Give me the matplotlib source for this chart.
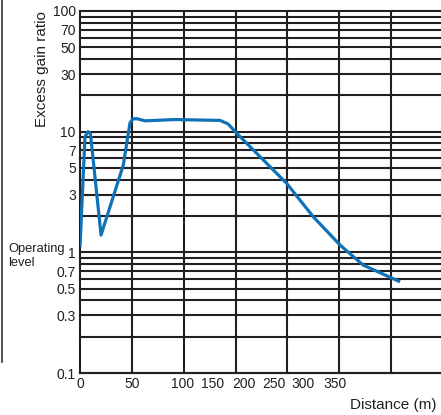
import matplotlib
matplotlib.use("Agg")
import matplotlib.pyplot as plt
from matplotlib.lines import Line2D

plt.rcParams['font.family'] = ['Liberation Sans', 'DejaVu Sans']

# curve (distance in grid units, gain ratio)
distance = [0, 4.8, 7.7, 10.1, 20.3, 41.8, 48.2, 51.1, 55, 62.7, 91.6, 135,
            142.8, 151.1, 199.3, 225, 250.8, 273, 308.7]
gain = [1.11, 9.07, 10.0, 9.6, 1.39, 5.3, 11.8, 12.8, 12.8, 12.3, 12.6, 12.4,
        11.6, 9.7, 3.73, 1.97, 1.15, 0.785, 0.57]

ytick_vals = [0.1, 0.3, 0.5, 0.7, 1, 3, 5, 7, 10, 30, 50, 70, 100]
ytick_text = ["0.1", "0.3", "0.5", "0.7", "1", "3", "5", "7", "10", "30", "50", "70", "100"]
xtick_text = ["0", "50", "100", "150", "200", "250", "300", "350"]
# where the x labels sit (they drift off the grid in the original)
xtick_pos = [0, 50, 99.4, 128.3, 158.2, 187.1, 215, 246]
xgrid = [50, 100, 150, 200, 250, 300]
ygrid = [k * 10.0**e for e in (-1, 0, 1) for k in range(1, 10)] + [100]

W, H = 441, 415
fig = plt.figure(figsize=(W / 100, H / 100), dpi=100)
ax = fig.add_axes([80 / W, 1 - 373 / H, 1 - 80 / W, (373 - 11) / H])

ink = '#231f20'
ax.set_yscale('log')
ax.set_ylim(0.1, 100)
ax.set_xlim(0, 348.2)

ax.set_yticks(ytick_vals)
ax.set_yticklabels(ytick_text)
ax.minorticks_off()
ax.set_xticks(xtick_pos)
ax.set_xticklabels(xtick_text)

ax.tick_params(which='both', length=0)
ax.tick_params(axis='y', labelsize=10, pad=3, colors=ink)
ax.tick_params(axis='x', labelsize=10, pad=3, colors=ink)

for v in ygrid:
    ax.axhline(v, color=ink, linewidth=1.5, zorder=1, clip_on=False)
for v in xgrid:
    ax.axvline(v, color=ink, linewidth=1.5, zorder=1)

for s in ['top', 'right']:
    ax.spines[s].set_visible(False)
for s in ['left', 'bottom']:
    ax.spines[s].set_color(ink)
    ax.spines[s].set_linewidth(1.5)

ax.plot(distance, gain, color='#0f72b8', linewidth=2.3, solid_joinstyle='round',
        solid_capstyle='butt', zorder=5)

fig.text(42 / W, 1 - 69 / H, "Excess gain ratio", rotation=90, ha='center',
         va='center', fontsize=11, color=ink)
fig.text(350 / W, 1 - 405 / H, "Distance (m)", ha='left', va='center',
         fontsize=11, color=ink)
fig.text(8 / W, 1 - 256 / H, "Operating\nlevel", ha='left', va='center',
         fontsize=9.3, color=ink, linespacing=1.2)

# dark edge left over from the scan
fig.add_artist(Line2D([2 / W, 2 / W], [1, 1 - 362 / H], color='#333333',
                      linewidth=1.2, transform=fig.transFigure))

fig.savefig("out.png", dpi=100)
